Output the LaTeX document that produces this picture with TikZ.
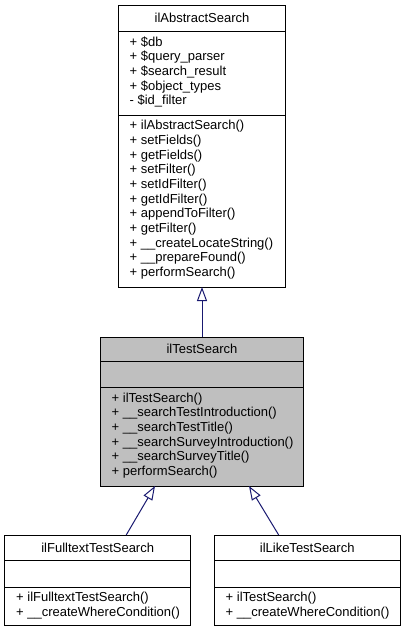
\documentclass[tikz,border=0pt]{standalone}
\usepackage{fontspec}
\setmainfont{Liberation Sans}
\usepackage{xcolor}
\usepackage{tikz}
\usetikzlibrary{arrows.meta}
\definecolor{edgeblue}{HTML}{191970}
\definecolor{classgray}{HTML}{BFBFBF}

\begin{document}
\begin{tikzpicture}[x=1pt,y=-1pt,
		classbox/.style={draw=black,line width=1pt,inner sep=0pt,outer sep=0pt},
		classname/.style={anchor=base,inner sep=0pt,font=\fontsize{13}{14.7}\selectfont},
		members/.style={anchor=north west,inner sep=0pt,align=left,font=\fontsize{13}{14.7}\selectfont},
		inherit/.style={draw=edgeblue,line width=1pt,-{Triangle[length=14pt,width=10pt,fill=white]}}]
		\useasboundingbox (0,0) rectangle (405,632);
		%base class
		\node[classbox,minimum width=167pt,minimum height=281.5pt] (abs) at (202,146.25) {};
		\draw[line width=1pt] ([yshift=-25.5pt]abs.north west) -- ([yshift=-25.5pt]abs.north east);
		\draw[line width=1pt] ([yshift=-109.8pt]abs.north west) -- ([yshift=-109.8pt]abs.north east);
		\node[classname] (absname) at (202,22.9) {ilAbstractSearch};
		\node[members] (absattr) at (129.5,35.7) {\strut+ \$db\\+ \$query\_parser\\+ \$search\_result\\+ \$object\_types\\- \$id\_filter};
		\node[members] (absops) at (129.5,119.2) {\strut+ ilAbstractSearch()\\+ setFields()\\+ getFields()\\+ setFilter()\\+ setIdFilter()\\+ getIdFilter()\\+ appendToFilter()\\+ getFilter()\\+ \_\_createLocateString()\\+ \_\_prepareFound()\\+ performSearch()};
		
		%test search
		\node[classbox,fill=classgray,minimum width=203pt,minimum height=149pt] (test) at (202,411.5) {};
		\draw[line width=1pt] ([yshift=-24pt]test.north west) -- ([yshift=-24pt]test.north east);
		\draw[line width=1pt] ([yshift=-50pt]test.north west) -- ([yshift=-50pt]test.north east);
		\node[classname] (testname) at (202,353.6) {ilTestSearch};
		\node[members] (testops) at (111.5,391.7) {\strut+ ilTestSearch()\\+ \_\_searchTestIntroduction()\\+ \_\_searchTestTitle()\\+ \_\_searchSurveyIntroduction()\\+ \_\_searchSurveyTitle()\\+ performSearch()};
		
		%fulltext search
		\node[classbox,minimum width=186pt,minimum height=90pt] (full) at (97.7,580) {};
		\draw[line width=1pt] ([yshift=-25pt]full.north west) -- ([yshift=-25pt]full.north east);
		\draw[line width=1pt] ([yshift=-52pt]full.north west) -- ([yshift=-52pt]full.north east);
		\node[classname] (fullname) at (97.7,552.2) {ilFulltextTestSearch};
		\node[members] (fullops) at (16,591.4) {\strut+ ilFulltextTestSearch()\\+ \_\_createWhereCondition()};
		
		%like search
		\node[classbox,minimum width=186pt,minimum height=90pt] (like) at (307.2,580) {};
		\draw[line width=1pt] ([yshift=-25pt]like.north west) -- ([yshift=-25pt]like.north east);
		\draw[line width=1pt] ([yshift=-52pt]like.north west) -- ([yshift=-52pt]like.north east);
		\node[classname] (likename) at (307.2,552.2) {ilLikeTestSearch};
		\node[members] (likeops) at (225.5,591.4) {\strut+ ilTestSearch()\\+ \_\_createWhereCondition()};
		
		%inheritance
		\draw[inherit] (test.north) -- (abs.south);
		\draw[inherit] ([xshift=28.5pt]full.north) -- ([xshift=-47pt]test.south);
		\draw[inherit] ([xshift=-28.5pt]like.north) -- ([xshift=47pt]test.south);
	\end{tikzpicture}
\end{document}
